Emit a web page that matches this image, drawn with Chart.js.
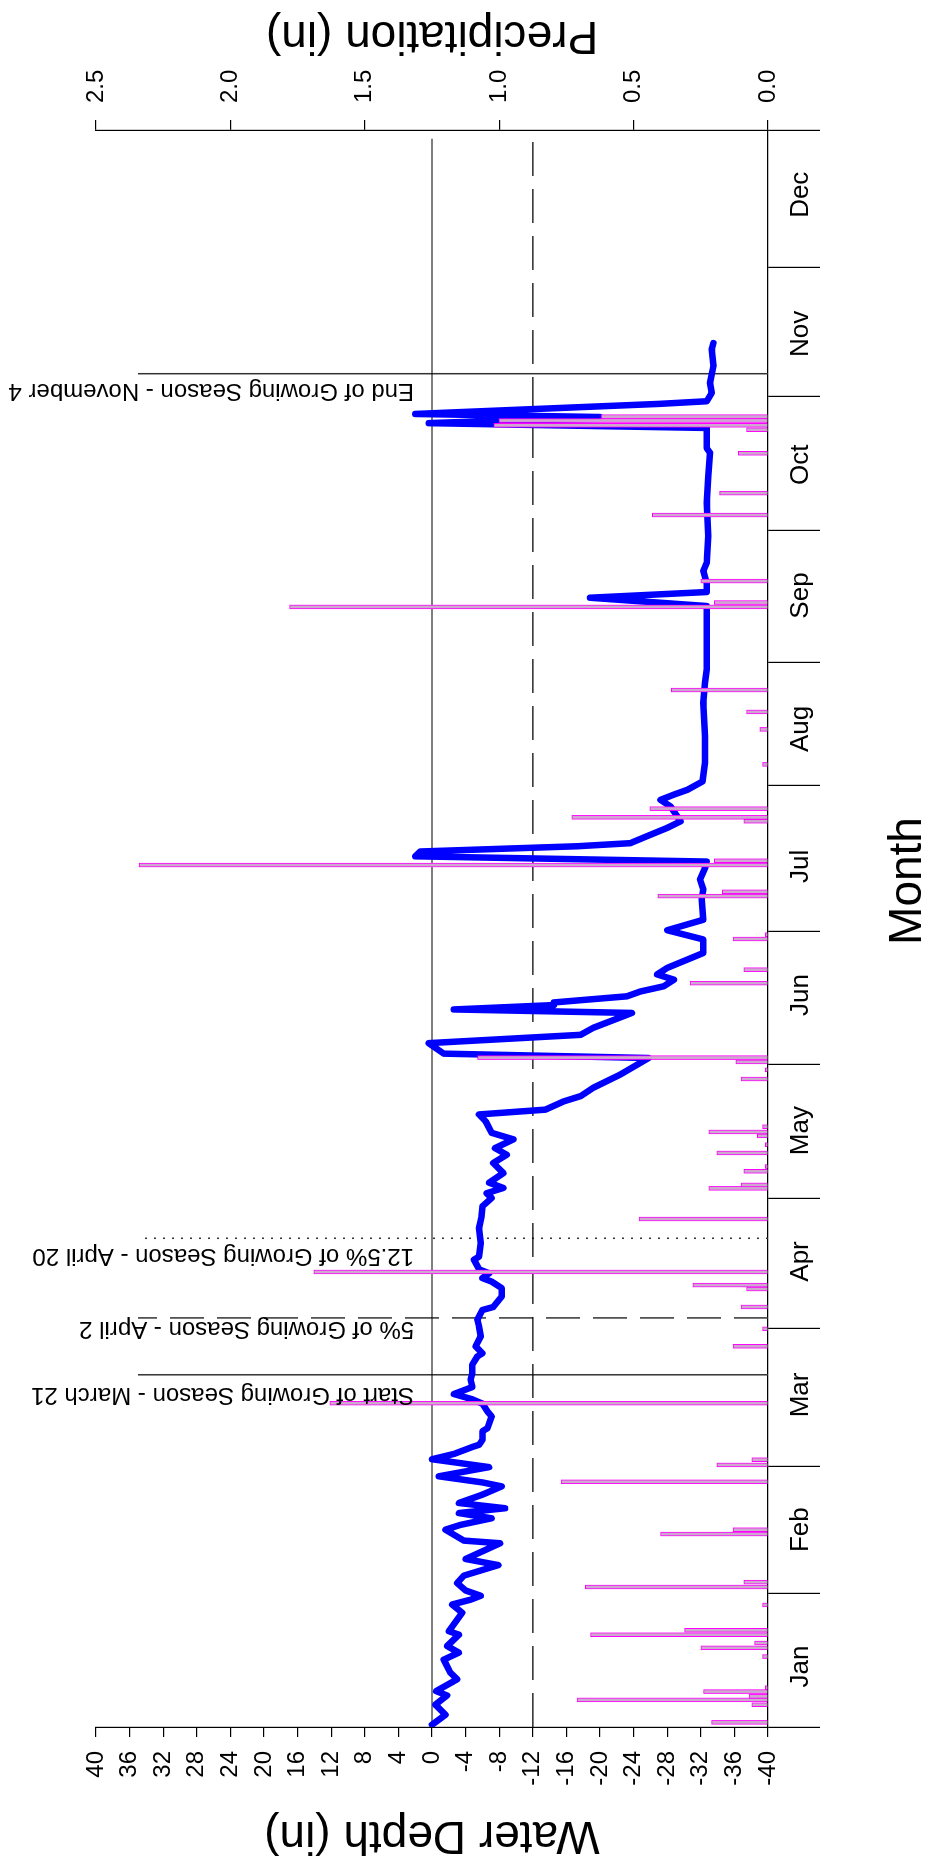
<!DOCTYPE html>
<html>
<head>
<meta charset="utf-8">
<script src="https://cdn.jsdelivr.net/npm/chart.js@4.4.1/dist/chart.umd.min.js"></script>
<style>
html, body { margin: 0; padding: 0; overflow: hidden; background: #fff; width: 932px; height: 1864px; }
#wrap { position: absolute; left: 0; top: 0; width: 1864px; height: 932px;
  transform-origin: 0 0; transform: translate(0px, 1864px) rotate(-90deg); }
canvas { display: block; }
</style>
</head>
<body>
<div id="wrap"><canvas id="c" width="1864" height="932"></canvas></div>
<script>
// ---------- data (x = day of year) ----------
const monthNames = ['Jan','Feb','Mar','Apr','May','Jun','Jul','Aug','Sep','Oct','Nov','Dec'];
const monthTickDays = [0, 30.5, 59.5, 91.0, 120.8, 151.4, 181.8, 215.3, 243.3, 273.4, 304.1, 333.6, 365];
const monthLabelDays = [13.8, 45.1, 75.9, 106.4, 136.3, 167.3, 196.7, 228.1, 258.6, 288.5, 318.4, 350.2];

const depthDays = [0.5,2.8,5.1,7.2,8.2,10.9,12.4,15.4,17.0,18.5,21.1,21.9,26.1,28.0,29.1,30.0,31.2,32.9,34.6,37.0,
  38.4,42.0,42.6,45.1,46.2,47.7,48.9,50.0,51.2,53.1,55.0,55.9,57.3,59.4,61.2,62.4,64.0,64.5,65.6,67.6,
  68.3,71.0,72.1,73.9,74.9,76.1,77.7,79.4,80.9,82.8,84.7,85.4,87.0,89.3,91.5,93.1,95.3,96.0,98.4,100.3,
  101.8,102.6,103.7,104.6,106.8,107.5,110.6,114.0,116.7,119.0,120.9,122.0,123.2,124.4,126.6,128.9,130.8,132.3,134.3,135.8,
  138.4,140.0,141.1,143.0,144.2,146.1,149.1,152.9,153.9,156.3,158.2,159.8,163.2,164.0,165.0,165.6,167.0,168.1,169.3,170.8,
  172.0,173.5,176.9,180.0,182.1,184.5,189.1,191.4,193.7,196.3,197.8,199.0,200.1,201.3,202.0,203.6,205.5,207.0,210.4,211.9,
  213.1,214.2,216.1,220.4,226.5,234.1,238.7,241.7,249.3,256.2,258.1,259.4,261.5,264.2,266.1,272.2,279.8,285.8,291.2,292.3,
  296.9,298.0,299.4,300.1,302.4,303.0,304.9,307.2,311.0,314.8,316.3];
const depthValues = [0,-1.6,-0.4,-1.8,-0.5,-3.0,-2.2,-1.4,-3.2,-1.8,-3.2,-2.0,-3.6,-2.4,-4.6,-5.8,-4.0,-3.0,-3.8,-7.9,
  -4.0,-8.1,-3.8,-1.6,-3.4,-7.1,-3.2,-8.7,-3.2,-6.0,-8.3,-6.0,-0.8,-6.8,0.0,-2.6,-4.8,-5.6,-6.0,-6.0,
  -6.6,-7.1,-6.6,-6.0,-4.8,-2.6,-4.8,-4.6,-4.8,-4.8,-5.4,-6.0,-5.2,-5.8,-5.6,-5.4,-6.0,-7.3,-8.3,-8.3,
  -7.1,-6.0,-6.8,-5.6,-5.0,-5.6,-5.8,-5.6,-5.9,-6.0,-7.1,-6.5,-8.5,-6.8,-8.5,-7.3,-8.9,-7.5,-9.7,-7.1,
  -6.4,-5.6,-13.5,-15.7,-17.7,-19.2,-22.4,-25.8,-1.4,0.4,-17.7,-19.2,-23.8,-2.6,-14.5,-14.5,-23.2,-24.8,-27.6,-28.8,
  -26.8,-28.0,-32.3,-32.3,-28.0,-32.3,-32.1,-32.3,-31.9,-32.5,-32.7,2.0,1.4,-17.3,-23.6,-25.6,-28.0,-29.6,-28.4,-27.2,
  -28.8,-30.4,-32.2,-32.5,-32.5,-32.3,-32.5,-32.7,-32.7,-32.7,-18.8,-32.7,-32.7,-32.3,-32.7,-32.9,-32.7,-32.9,-33.1,-32.7,
  -32.7,0.4,-20.0,2.0,-27.0,-32.7,-33.3,-33.1,-33.5,-33.3,-33.5];

const precipDays = [1.05,5.1,6.2,7.0,8.1,9.0,16.1,18.1,19.2,21.1,22.1,27.9,32.0,33.1,44.1,45.1,56.05,59.9,61.1,74.0,
  87.0,91.0,96.0,100.1,101.0,104.0,116.1,123.1,123.9,127.0,128.1,131.2,133.1,135.1,136.0,137.2,148.1,150.2,152.0,153.0,
  170.0,173.1,180.1,181.1,189.9,190.9,197.0,198.0,207.0,207.9,209.9,220.0,228.0,232.0,237.0,256.0,257.0,261.9,277.0,282.0,
  291.1,296.5,297.5,298.6,299.5];
const precipValues = [0.21,0.06,0.71,0.07,0.24,0.01,0.02,0.25,0.05,0.66,0.31,0.02,0.68,0.09,0.40,0.13,0.77,0.19,0.06,1.63,
  0.13,0.02,0.10,0.08,0.28,1.69,0.48,0.22,0.10,0.09,0.01,0.19,0.01,0.04,0.22,0.02,0.10,0.01,0.12,1.08,
  0.29,0.09,0.13,0.01,0.41,0.17,2.34,0.20,0.09,0.73,0.44,0.02,0.03,0.08,0.36,1.78,0.20,0.25,0.43,0.18,
  0.11,0.08,1.02,1.00,0.62];

const referenceDepths = [0, -12];
const referenceEndDay = 363;
const seasonDays = [80.5, 93.5, 111.7, 309.3];
const seasonLabels = ['Start of Growing Season - March 21', '5% of Growing Season - April 2',
  '12.5% of Growing Season - April 20', 'End of Growing Season - November 4'];
const seasonTop = 35;

// ---------- chart ----------
const FONT = "'Liberation Sans', Arial, Helvetica, sans-serif";
Chart.defaults.font.family = FONT;
Chart.defaults.color = '#000';

const seasonDash = [[], [34, 13], [2, 7], []];
const seasonSets = seasonDays.map((d, i) => ({
  type: 'line', data: [{x: d, y: -40}, {x: d, y: seasonTop}], borderColor: '#333', borderWidth: 1.5,
  borderDash: seasonDash[i], pointRadius: 0, yAxisID: 'y', order: 3
}));
const refSets = referenceDepths.map((v, i) => ({
  type: 'line', data: [{x: 0, y: v}, {x: referenceEndDay, y: v}], borderColor: '#000', borderWidth: 1.2,
  borderDash: i === 0 ? [] : [34, 13], pointRadius: 0, yAxisID: 'y', order: 3
}));

const annot = {
  id: 'annot',
  afterDraw(chart) {
    const ctx = chart.ctx, xs = chart.scales.x;
    ctx.save();
    ctx.fillStyle = '#000';
    // month labels
    ctx.font = '26px ' + FONT;
    ctx.textAlign = 'center'; ctx.textBaseline = 'alphabetic';
    monthNames.forEach((m, i) => ctx.fillText(m, xs.getPixelForValue(monthLabelDays[i]), 808));
    // season labels (vertical)
    ctx.font = '24px ' + FONT;
    ctx.textAlign = 'left';
    seasonDays.forEach((d, i) => {
      const px = xs.getPixelForValue(d);
      const off = [13, 4.5, 11, 10][i];
      ctx.save(); ctx.translate(px - off, 414); ctx.rotate(-Math.PI / 2);
      ctx.fillText(seasonLabels[i], 0, 0); ctx.restore();
    });
    // axis titles
    ctx.font = '46px ' + FONT;
    ctx.textAlign = 'center';
    ctx.save(); ctx.translate(42, 432); ctx.rotate(-Math.PI / 2); ctx.fillText('Water Depth (in)', 0, 0); ctx.restore();
    ctx.save(); ctx.translate(1842, 432); ctx.rotate(-Math.PI / 2); ctx.fillText('Precipitation (in)', 0, 0); ctx.restore();
    ctx.fillText('Month', 983, 921);
    ctx.restore();
  }
};

new Chart(document.getElementById('c'), {
  type: 'bar',
  data: {
    datasets: [
      {
        type: 'bar', label: 'Precipitation',
        data: precipDays.map((d, i) => ({x: d, y: precipValues[i]})),
        yAxisID: 'y2', backgroundColor: 'rgb(205,170,205)', borderColor: '#ff00ff', borderWidth: 1,
        barThickness: 4, order: 0
      },
      {
        type: 'line', label: 'Water Depth',
        data: depthDays.map((d, i) => ({x: d, y: depthValues[i]})),
        yAxisID: 'y', borderColor: '#0000ff', borderWidth: 6.5, pointRadius: 0, tension: 0,
        borderJoinStyle: 'round', borderCapStyle: 'round', order: 1
      },
      ...refSets,
      ...seasonSets
    ]
  },
  options: {
    responsive: false, animation: false, devicePixelRatio: 1,
    layout: { padding: { top: 96, left: 0, right: 0, bottom: 0 } },
    plugins: { legend: { display: false }, tooltip: { enabled: false } },
    scales: {
      x: {
        type: 'linear', position: 'bottom', min: 0, max: 365, offset: false,
        afterBuildTicks: s => { s.ticks = monthTickDays.map(v => ({value: v})); },
        afterFit: s => { s.height = 164; },
        ticks: { display: false },
        grid: { offset: false, drawOnChartArea: false, drawTicks: true, tickLength: 52, color: '#000', lineWidth: 1.2 },
        border: { display: true, color: '#000', width: 1.2 }
      },
      y: {
        type: 'linear', position: 'left', min: -40, max: 40,
        afterFit: s => { s.width = 137; },
        ticks: { stepSize: 4, font: { size: 24 }, color: '#000', padding: 14 },
        grid: { drawOnChartArea: false, drawTicks: true, tickLength: 10, color: '#000', lineWidth: 1.2 },
        border: { display: true, color: '#000', width: 1.2 }
      },
      y2: {
        type: 'linear', position: 'right', min: 0, max: 2.5,
        afterFit: s => { s.width = 130; },
        ticks: { stepSize: 0.5, font: { size: 24 }, color: '#000', padding: 17, callback: v => Number(v).toFixed(1) },
        grid: { drawOnChartArea: false, drawTicks: true, tickLength: 10, color: '#000', lineWidth: 1.2 },
        border: { display: true, color: '#000', width: 1.2 }
      }
    }
  },
  plugins: [annot]
});
</script>
</body>
</html>
